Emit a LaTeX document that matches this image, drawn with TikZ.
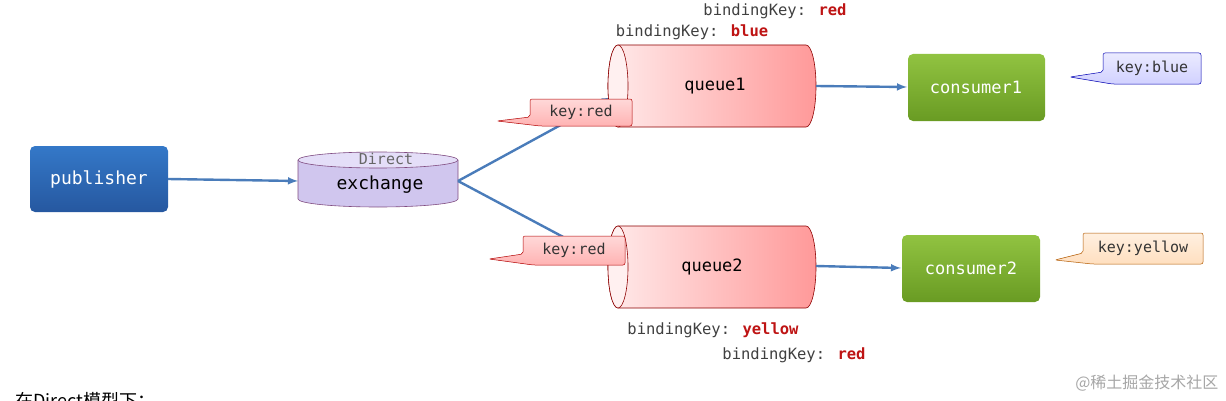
\documentclass[tikz,border=0pt]{standalone}
\usepackage{fontspec}
\newfontfamily\mono{DejaVu Sans Mono}
\newfontfamily\cjk{Noto Sans CJK SC}
\definecolor{ar}{RGB}{74,124,186}
\definecolor{kr}{RGB}{190,20,20}
\definecolor{pubT}{RGB}{52,120,200}
\definecolor{pubB}{RGB}{38,88,160}
\definecolor{grT}{RGB}{145,195,65}
\definecolor{grB}{RGB}{105,155,35}
\definecolor{exF}{RGB}{208,198,238}
\definecolor{exT}{RGB}{228,222,248}
\begin{document}
\begin{tikzpicture}[x=1pt,y=1pt,
  arr/.style={draw=ar,line width=2.4pt,-latex},
  box/.style={rounded corners=5pt,draw=none},
  lbl/.style={font=\mono\fontsize{15}{17}\selectfont,text=black!80},
  txt/.style={font=\mono\fontsize{17}{20}\selectfont},
  call/.style={rounded corners=2pt,draw=#1!70!black,line width=0.5pt},
]
\useasboundingbox (0,0) rectangle (1226,400);
% publisher
\shade[box,top color=pubT,bottom color=pubB] (30,188) rectangle (168,254);
\node[txt,text=white,font=\mono\fontsize{18}{20}\selectfont] (pub) at (99,221) {publisher};
\coordinate (pubE) at (168,221);
% exchange
\fill[exF] (298,240) -- (298,201) arc[start angle=180,end angle=360,x radius=80,y radius=8] -- (458,240) arc[start angle=0,end angle=180,x radius=80,y radius=8] -- cycle;
\draw[violet!40!gray,line width=0.6pt] (298,240) -- (298,201) arc[start angle=180,end angle=360,x radius=80,y radius=8] -- (458,240);
\filldraw[fill=exT,draw=violet!40!gray,line width=0.6pt] (378,240) ellipse[x radius=80,y radius=8];
\node[font=\mono\fontsize{15}{17}\selectfont,text=black!60] at (386,241) {Direct};
\node[txt,font=\mono\fontsize{18}{20}\selectfont] (ex) at (380,215) {exchange};
\coordinate (exW) at (298,219);
\coordinate (exE) at (458,219);
\coordinate (q1W) at (612,303);
\coordinate (q2W) at (614,136);
\draw[arr] (pubE) -- (exW);
\draw[arr] (exE) -- (q1W);
\draw[arr] (exE) -- (q2W);
% queues
\foreach \n/\cy in {1/314,2/133}{
  \shade[left color=red!8,right color=red!40,draw=red!55!black,line width=0.6pt]
    (618,\cy+41) -- (806,\cy+41) arc[start angle=90,end angle=-90,x radius=10,y radius=41] -- (618,\cy-41) arc[start angle=270,end angle=90,x radius=10,y radius=41] -- cycle;
  \filldraw[fill=red!6,draw=red!55!black,line width=0.6pt] (618,\cy) ellipse[x radius=10,y radius=41];
}
\node[txt] (q1) at (715,314) {queue1};
\node[txt] (q2) at (712,133) {queue2};
\coordinate (q1E) at (816,314);
\coordinate (q2E) at (816,134);
% consumers
\shade[box,top color=grT,bottom color=grB] (908,279) rectangle (1045,346);
\shade[box,top color=grT,bottom color=grB] (902,98) rectangle (1040,165);
\node[txt,text=white] (c1) at (976,313) {consumer1};
\node[txt,text=white] (c2) at (971,132) {consumer2};
\coordinate (c1W) at (907,313);
\coordinate (c2W) at (901,132);
\draw[arr] (q1E) -- (c1W);
\draw[arr] (q2E) -- (c2W);
% callouts
\shade[call=red,top color=red!15,bottom color=red!30] (530,301) -- (632,301) -- (632,274) -- (540,274) -- (497,279) -- (530,283) -- cycle;
\node[lbl] (k1) at (581,288) {key:red};
\shade[call=red,top color=red!15,bottom color=red!30] (523,164) -- (625,164) -- (625,135) -- (533,135) -- (489,141) -- (523,146) -- cycle;
\node[lbl] (k2) at (574,150) {key:red};
\shade[call=blue,top color=blue!8,bottom color=blue!18] (1103,347) -- (1201,347) -- (1201,316) -- (1112,316) -- (1070,323) -- (1103,328) -- cycle;
\node[lbl] (k3) at (1152,332) {key:blue};
\shade[call=orange,top color=orange!12,bottom color=orange!25] (1083,167) -- (1203,167) -- (1203,136) -- (1092,136) -- (1055,140) -- (1083,147) -- cycle;
\node[lbl] (k4) at (1143,152) {key:yellow};
% binding keys
\tikzset{bk/.style={font=\mono\fontsize{15.5}{18}\selectfont,text=black!75}}
\node[bk] (b1) at (775,389) {bindingKey: \textcolor{kr}{\bfseries red}};
\node[bk] (b2) at (692,368) {bindingKey: \textcolor{kr}{\bfseries blue}};
\node[bk] (b3) at (713,70) {bindingKey: \textcolor{kr}{\bfseries yellow}};
\node[bk] (b4) at (794,45) {bindingKey: \textcolor{kr}{\bfseries red}};
% footer
\node[font=\cjk\fontsize{18}{20}\selectfont,anchor=west] (ft) at (12,-1) {在Direct模型下：};
\node[font=\cjk\fontsize{16}{18}\selectfont,text=black!35,anchor=east] (wm) at (1222,17) {@稀土掘金技术社区};
\end{tikzpicture}
\end{document}
